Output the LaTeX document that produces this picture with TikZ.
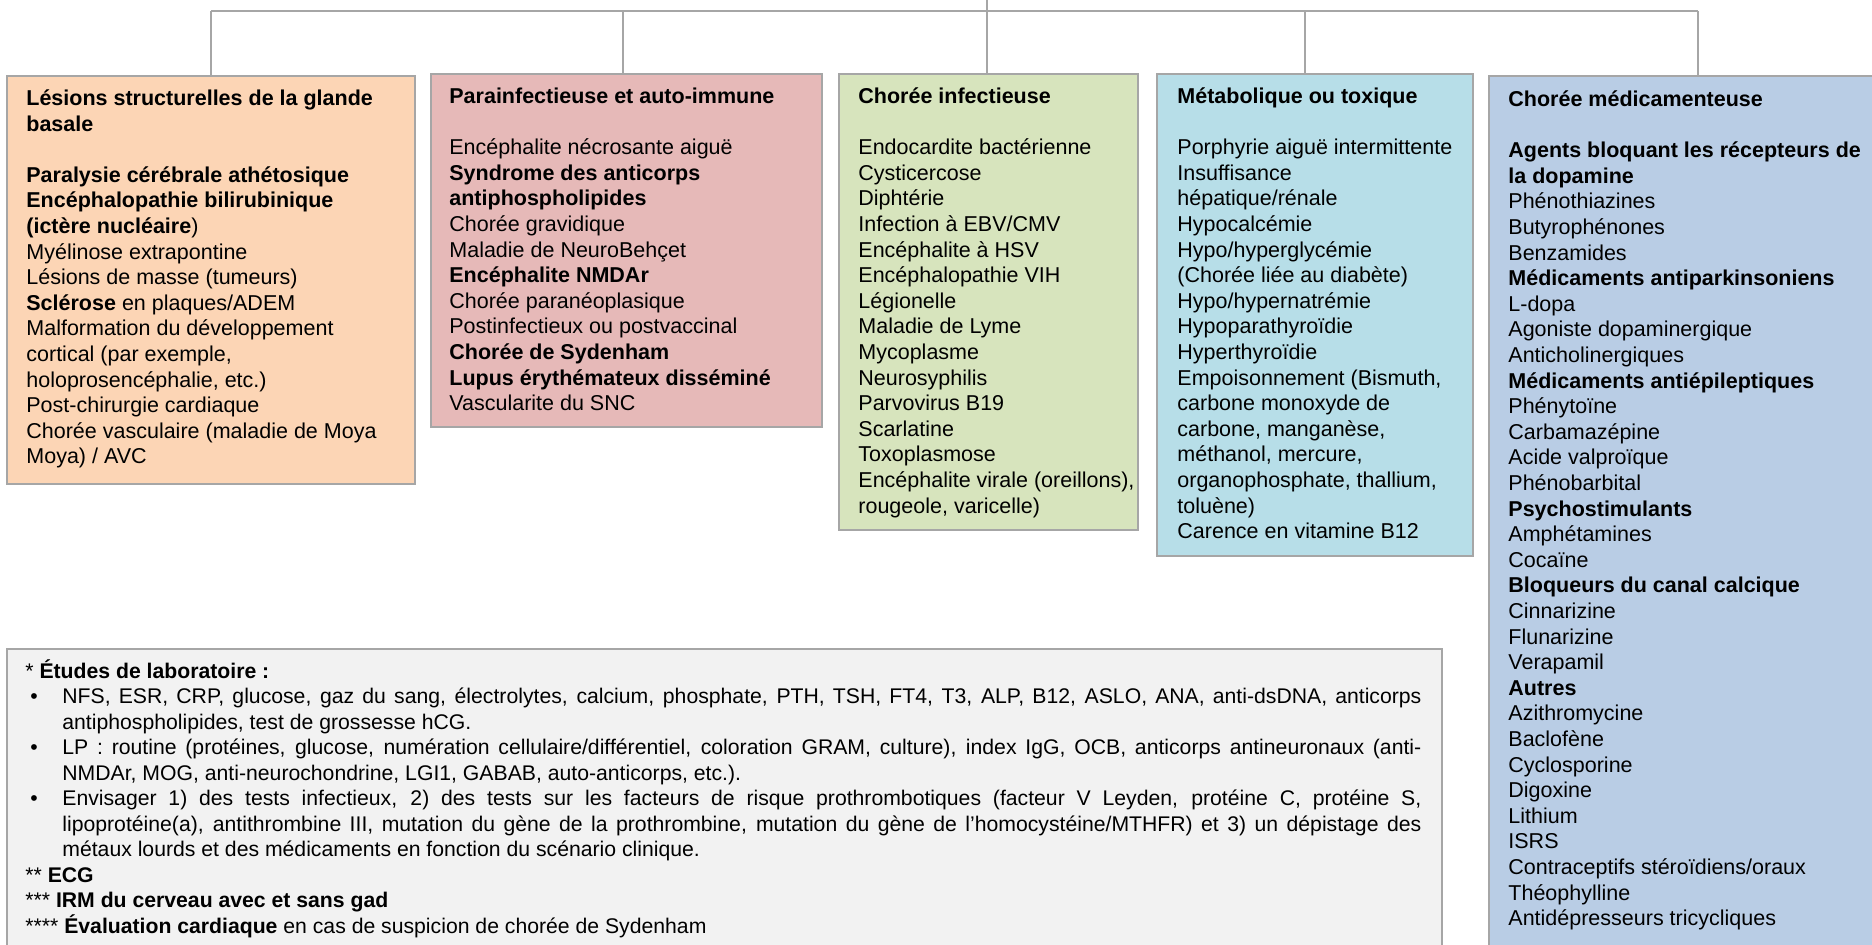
\documentclass[tikz,border=0pt]{standalone}
\usepackage{fontspec}
\setmainfont{Liberation Sans}
\usetikzlibrary{calc}
\definecolor{lineg}{HTML}{A6A6A6}
\definecolor{cOrange}{HTML}{FCD5B5}
\definecolor{cPink}{HTML}{E6B9B8}
\definecolor{cGreen}{HTML}{D7E4BD}
\definecolor{cBlue}{HTML}{B7DEE8}
\definecolor{cMed}{HTML}{B9CDE5}
\definecolor{cGray}{HTML}{F2F2F2}
\newcommand\tstrut{\rule{0pt}{10pt}}
\newcommand\bul{\makebox[18.5pt][l]{\hspace{2.5pt}•}}
\newcommand\ind{\hspace*{18.5pt}}
\newcommand\jl[1]{\makebox[679.5pt][s]{#1}}
\begin{document}
\begin{tikzpicture}[x=0.5pt,y=-0.5pt,
  catbox/.style={draw=lineg, line width=1.1pt, inner sep=0pt, anchor=north west},
  cattext/.style={inner sep=0pt, anchor=north west, align=left, font=\fontsize{10.75pt}{12.8pt}\selectfont},
  conn/.style={draw=lineg, line width=0.75pt}]
\path[use as bounding box, clip] (0,0) rectangle (1872,944);
\fill[white] (0,0) rectangle (1872,944);

% boxes
\node[catbox, fill=cOrange, minimum width=204pt, minimum height=204pt] (orange) at (6,75) {};
\node[catbox, fill=cPink, minimum width=195.5pt, minimum height=176.5pt] (pink) at (430,73) {};
\node[catbox, fill=cGreen, minimum width=149.5pt, minimum height=228pt] (green) at (838,73) {};
\node[catbox, fill=cBlue, minimum width=158pt, minimum height=241pt] (blue) at (1156,73) {};
\node[catbox, fill=cMed, minimum width=200pt, minimum height=450pt] (med) at (1488,75) {};
\node[catbox, fill=cGray, minimum width=717.5pt, minimum height=160pt] (lab) at (6,648) {};

% connectors
\coordinate (root) at (987,-5);
\coordinate (hub) at (987,11);
\coordinate (d1) at (211,11);
\coordinate (d2) at (623,11);
\coordinate (d3) at (987,11);
\coordinate (d4) at (1305,11);
\coordinate (d5) at (1698,11);
\draw[conn] (root) -- (hub);
\draw[conn] (d1) -- (d5);
\draw[conn] (d1) -- (d1 |- orange.north);
\draw[conn] (d2) -- (d2 |- pink.north);
\draw[conn] (d3) -- (d3 |- green.north);
\draw[conn] (d4) -- (d4 |- blue.north);
\draw[conn] (d5) -- (d5 |- med.north);

% texts
\node[cattext] (orangeT) at ([shift={(20,10)}]orange.north west) {\tstrut\textbf{Lésions structurelles de la glande}\\
\textbf{basale}\\[12.8pt]
\textbf{Paralysie cérébrale athétosique}\\
\textbf{Encéphalopathie bilirubinique}\\
\textbf{(ictère nucléaire})\\
Myélinose extrapontine\\
Lésions de masse (tumeurs)\\
\textbf{Sclérose} en plaques/ADEM\\
Malformation du développement\\
cortical (par exemple,\\
holoprosencéphalie, etc.)\\
Post-chirurgie cardiaque\\
Chorée vasculaire (maladie de Moya\\
Moya) / AVC};

\node[cattext] (pinkT) at ([shift={(19,10)}]pink.north west) {\tstrut\textbf{Parainfectieuse et auto-immune}\\[12.8pt]
Encéphalite nécrosante aiguë\\
\textbf{Syndrome des anticorps}\\
\textbf{antiphospholipides}\\
Chorée gravidique\\
Maladie de NeuroBehçet\\
\textbf{Encéphalite NMDAr}\\
Chorée paranéoplasique\\
Postinfectieux ou postvaccinal\\
\textbf{Chorée de Sydenham}\\
\textbf{Lupus érythémateux disséminé}\\
Vascularite du SNC};

\node[cattext] (greenT) at ([shift={(20,10)}]green.north west) {\tstrut\textbf{Chorée infectieuse}\\[12.8pt]
Endocardite bactérienne\\
Cysticercose\\
Diphtérie\\
Infection à EBV/CMV\\
Encéphalite à HSV\\
Encéphalopathie VIH\\
Légionelle\\
Maladie de Lyme\\
Mycoplasme\\
Neurosyphilis\\
Parvovirus B19\\
Scarlatine\\
Toxoplasmose\\
Encéphalite virale (oreillons),\\
rougeole, varicelle)};

\node[cattext] (blueT) at ([shift={(21,10)}]blue.north west) {\tstrut\textbf{Métabolique ou toxique}\\[12.8pt]
Porphyrie aiguë intermittente\\
Insuffisance\\
hépatique/rénale\\
Hypocalcémie\\
Hypo/hyperglycémie\\
(Chorée liée au diabète)\\
Hypo/hypernatrémie\\
Hypoparathyroïdie\\
Hyperthyroïdie\\
Empoisonnement (Bismuth,\\
carbone monoxyde de\\
carbone, manganèse,\\
méthanol, mercure,\\
organophosphate, thallium,\\
toluène)\\
Carence en vitamine B12};

\node[cattext] (medT) at ([shift={(20,11)}]med.north west) {\tstrut\textbf{Chorée médicamenteuse}\\[12.8pt]
\textbf{Agents bloquant les récepteurs de}\\
\textbf{la dopamine}\\
Phénothiazines\\
Butyrophénones\\
Benzamides\\
\textbf{Médicaments antiparkinsoniens}\\
L-dopa\\
Agoniste dopaminergique\\
Anticholinergiques\\
\textbf{Médicaments antiépileptiques}\\
Phénytoïne\\
Carbamazépine\\
Acide valproïque\\
Phénobarbital\\
\textbf{Psychostimulants}\\
Amphétamines\\
Cocaïne\\
\textbf{Bloqueurs du canal calcique}\\
Cinnarizine\\
Flunarizine\\
Verapamil\\
\textbf{Autres}\\
Azithromycine\\
Baclofène\\
Cyclosporine\\
Digoxine\\
Lithium\\
ISRS\\
Contraceptifs stéroïdiens/oraux\\
Théophylline\\
Antidépresseurs tricycliques};

\node[cattext, font=\fontsize{10.6pt}{12.75pt}\selectfont] (labT) at ([shift={(19,10)}]lab.north west) {\tstrut * \textbf{Études de laboratoire :}\\
\bul\jl{NFS, ESR, CRP, glucose, gaz du sang, électrolytes, calcium, phosphate, PTH, TSH, FT4, T3, ALP, B12, ASLO, ANA, anti-dsDNA, anticorps}\\
\ind antiphospholipides, test de grossesse hCG.\\
\bul\jl{LP : routine (protéines, glucose, numération cellulaire/différentiel, coloration GRAM, culture), index IgG, OCB, anticorps antineuronaux (anti-}\\
\ind NMDAr, MOG, anti-neurochondrine, LGI1, GABAB, auto-anticorps, etc.).\\
\bul\jl{Envisager 1) des tests infectieux, 2) des tests sur les facteurs de risque prothrombotiques (facteur V Leyden, protéine C, protéine S,}\\
\ind\jl{lipoprotéine(a), antithrombine III, mutation du gène de la prothrombine, mutation du gène de l'homocystéine/MTHFR) et 3) un dépistage des}\\
\ind métaux lourds et des médicaments en fonction du scénario clinique.\\
** \textbf{ECG}\\
*** \textbf{IRM du cerveau avec et sans gad}\\
**** \textbf{Évaluation cardiaque} en cas de suspicion de chorée de Sydenham};
\end{tikzpicture}
\end{document}
